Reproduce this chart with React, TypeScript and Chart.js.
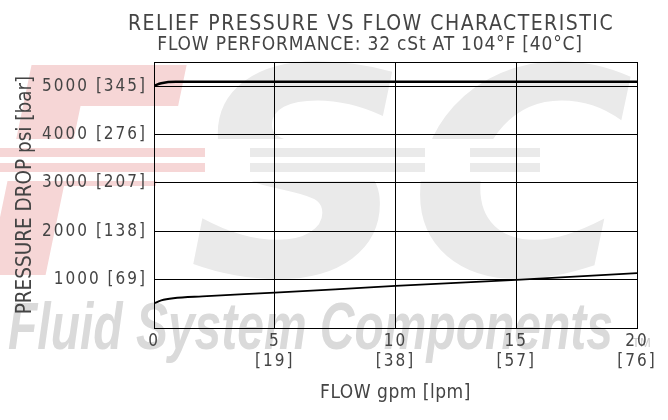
import React, { useEffect, useRef } from 'react';
import { Chart, registerables } from 'chart.js';

Chart.register(...registerables);

const chartTitle = 'RELIEF PRESSURE VS FLOW CHARACTERISTIC';
const chartSubtitle = 'FLOW PERFORMANCE: 32 cSt AT 104°F [40°C]';
const xAxisTitle = 'FLOW gpm [lpm]';
const yAxisTitle = 'PRESSURE DROP psi [bar]';

const xTickGpm = [0, 5, 10, 15, 20];
const xTickLpm = ['', '[19]', '[38]', '[57]', '[76]'];
const yTickPsi = [1000, 2000, 3000, 4000, 5000];
const yTickBar = ['[69]', '[138]', '[207]', '[276]', '[345]'];

const reliefFlow = [0, 0.3, 0.9, 20];
const reliefPsi = [5010, 5060, 5090, 5090];
const lowFlow = [0, 0.3, 0.8, 2, 5, 10, 15, 20];
const lowPsi = [510, 570, 615, 655, 730, 870, 995, 1135];

const FONT = '"Liberation Sans Narrow", "DejaVu Sans Condensed", "Liberation Sans", sans-serif';
const TEXT = '#444444';

const SPACING: Record<string, { ticks: string; title: string }> = {
  x: { ticks: '2px', title: '0.5px' },
  y: { ticks: '2px', title: '0px' },
};

function wrapSpacing(obj: any, name: string, sp: string) {
  const orig = obj[name];
  if (typeof orig !== 'function') return;
  obj[name] = function (...args: any[]) {
    const ctx = this.ctx;
    const prev = ctx.letterSpacing;
    ctx.letterSpacing = sp;
    const r = orig.apply(this, args);
    ctx.letterSpacing = prev;
    return r;
  };
}

const spacingPlugin = {
  id: 'spacing',
  beforeDraw(chart: any) {
    for (const id of Object.keys(chart.scales)) {
      const s = chart.scales[id];
      if (s.__patched) continue;
      s.__patched = true;
      const cfg = SPACING[id];
      if (!cfg) continue;
      wrapSpacing(s, 'drawLabels', cfg.ticks);
      wrapSpacing(s, 'drawTitle', cfg.title);
    }
  },
};

const PINK = 'rgb(246, 214, 214)';
const GREY = 'rgb(234, 234, 234)';

const watermarkPlugin = {
  id: 'watermark',
  beforeDraw(chart: any) {
    const ctx = chart.ctx;
    ctx.save();
    ctx.letterSpacing = '0px';
    // FSC logo (faint)
    ctx.font = 'italic bold 300px "DejaVu Sans"';
    ctx.textBaseline = 'alphabetic';
    ctx.save();
    ctx.translate(0, 275);
    ctx.scale(1.02, 0.96);
    ctx.fillStyle = PINK;
    ctx.fillText('F', -18, 0);
    const fw = ctx.measureText('F').width;
    ctx.fillStyle = GREY;
    ctx.fillText('SC', -18 + fw - 2, 0);
    ctx.restore();
    // speed stripes across the middle of the logo
    ctx.fillStyle = '#fff';
    ctx.fillRect(0, 139, 668, 42);
    const bands = [
      [148, 9],
      [163, 9],
    ];
    for (const [y, h] of bands) {
      ctx.fillStyle = PINK;
      ctx.fillRect(0, y, 205, h);
      ctx.fillStyle = GREY;
      ctx.fillRect(250, y, 175, h);
      ctx.fillRect(470, y, 70, h);
    }
    // company name
    ctx.font = 'italic bold 66px "Liberation Sans"';
    const txt = 'Fluid System Components';
    const w = ctx.measureText(txt).width;
    ctx.save();
    ctx.translate(8, 349);
    ctx.scale(605 / w, 1.02);
    ctx.fillStyle = 'rgb(218, 218, 218)';
    ctx.fillText(txt, 0, 0);
    ctx.restore();
    ctx.font = '13px "Liberation Sans"';
    ctx.fillStyle = 'rgb(205, 205, 205)';
    ctx.fillText('TM', 632, 347);
    ctx.restore();
  },
};

const titlePlugin = {
  id: 'customTitles',
  beforeDraw(chart: any) {
    const ctx = chart.ctx;
    ctx.save();
    ctx.fillStyle = TEXT;
    ctx.textAlign = 'center';
    ctx.textBaseline = 'alphabetic';
    ctx.font = `21px ${FONT}`;
    ctx.letterSpacing = '1.5px';
    ctx.fillText(chartTitle, 371, 30);
    ctx.font = `19px ${FONT}`;
    ctx.letterSpacing = '0.8px';
    ctx.fillText(chartSubtitle, 370, 50);
    ctx.restore();
  },
};

const framePlugin = {
  id: 'frame',
  afterDatasetsDraw(chart: any) {
    const { left, top, right, bottom } = chart.chartArea;
    const ctx = chart.ctx;
    ctx.save();
    ctx.strokeStyle = '#000';
    ctx.lineWidth = 1;
    const l = Math.round(left - 0.5) + 0.5;
    const t = Math.round(top - 0.5) + 0.5;
    const r = Math.round(right - 0.5) + 0.5;
    const b = Math.round(bottom - 0.5) + 0.5;
    ctx.strokeRect(l, t, r - l, b - t);
    ctx.restore();
  },
};

export default function App() {
  const ref = useRef<HTMLCanvasElement | null>(null);

  useEffect(() => {
    document.body.style.margin = '0';
    document.body.style.background = '#fff';
    const canvas = ref.current;
    if (!canvas) return;
    const chart = new Chart(canvas, {
      type: 'line',
      data: {
        datasets: [
          {
            data: reliefFlow.map((x, i) => ({ x, y: reliefPsi[i] })),
            borderColor: '#000',
            borderWidth: 2.5,
            pointRadius: 0,
            cubicInterpolationMode: 'monotone',
            fill: false,
          },
          {
            data: lowFlow.map((x, i) => ({ x, y: lowPsi[i] })),
            borderColor: '#000',
            borderWidth: 1.8,
            pointRadius: 0,
            cubicInterpolationMode: 'monotone',
            fill: false,
          },
        ],
      },
      options: {
        animation: false,
        responsive: false,
        devicePixelRatio: 1,
        layout: { padding: { left: 0, right: 31, top: 62, bottom: 0 } },
        plugins: {
          legend: { display: false },
          tooltip: { enabled: false },
          title: { display: false },
          subtitle: { display: false },
        },
        scales: {
          x: {
            type: 'linear',
            min: 0,
            max: 20,
            afterBuildTicks: (s: any) => {
              s.ticks = xTickGpm.map((v) => ({ value: v }));
            },
            afterFit: (s: any) => {
              s.height = 92;
            },
            ticks: {
              autoSkip: false,
              maxRotation: 0,
              padding: 3,
              color: TEXT,
              font: { family: FONT, size: 17 },
              callback: (v: any) => {
                const i = xTickGpm.indexOf(Number(v));
                return i >= 0 && xTickLpm[i] ? [String(v), xTickLpm[i]] : String(v);
              },
            },
            grid: { color: '#000', lineWidth: 1, drawTicks: false },
            border: { display: true, color: '#000', width: 1 },
            title: {
              display: true,
              text: xAxisTitle,
              color: TEXT,
              font: { family: FONT, size: 19 },
              padding: { top: 0, bottom: 16 },
            },
          },
          y: {
            type: 'linear',
            min: 0,
            max: 5500,
            afterBuildTicks: (s: any) => {
              s.ticks = [0, ...yTickPsi].map((v) => ({ value: v }));
            },
            afterFit: (s: any) => {
              s.width = 154;
            },
            ticks: {
              autoSkip: false,
              padding: 7,
              color: TEXT,
              font: { family: FONT, size: 17 },
              callback: (v: any) => {
                const i = yTickPsi.indexOf(Number(v));
                return i >= 0 ? `${v} ${yTickBar[i]}` : '';
              },
            },
            grid: { color: '#000', lineWidth: 1, drawTicks: false },
            border: { display: true, color: '#000', width: 1 },
            title: {
              display: true,
              text: yAxisTitle,
              color: TEXT,
              font: { family: FONT, size: 20.5 },
              padding: { top: 13, bottom: 0 },
            },
          },
        },
      },
      plugins: [spacingPlugin, watermarkPlugin, titlePlugin, framePlugin],
    } as any);
    return () => chart.destroy();
  }, []);

  return (
    <div style={{ width: 668, height: 420, overflow: 'hidden' }}>
      <canvas ref={ref} width={668} height={420} style={{ display: 'block' }} />
    </div>
  );
}
